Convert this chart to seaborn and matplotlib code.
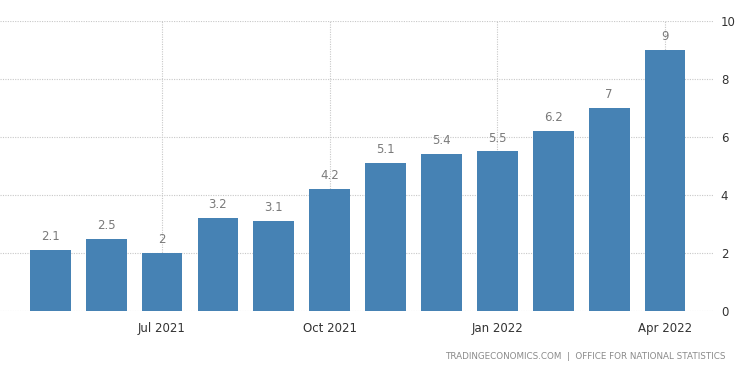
import pandas as pd
import matplotlib.pyplot as plt
import seaborn as sns
sns.set_style("white")

# Monthly values, May 2021 - Apr 2022
months = ["May 2021", "Jun 2021", "Jul 2021", "Aug 2021", "Sep 2021", "Oct 2021",
          "Nov 2021", "Dec 2021", "Jan 2022", "Feb 2022", "Mar 2022", "Apr 2022"]
values = [2.1, 2.5, 2, 3.2, 3.1, 4.2, 5.1, 5.4, 5.5, 6.2, 7, 9]
value_labels = ["2.1", "2.5", "2", "3.2", "3.1", "4.2", "5.1", "5.4", "5.5", "6.2", "7", "9"]
tick_months = ["Jul 2021", "Oct 2021", "Jan 2022", "Apr 2022"]
y_ticks = [0, 2, 4, 6, 8, 10]

df = pd.DataFrame({"Month": months, "Value": values})

fig = plt.figure(figsize=(7.5, 3.73), dpi=100)
ax = fig.add_axes([0.0, 0.166, 0.95, 0.778])

sns.barplot(data=df, x="Month", y="Value", order=months, color="#4682b4",
            saturation=1, width=0.73, linewidth=0, ax=ax, zorder=2)

bars = ax.containers[0]
ax.bar_label(bars, labels=value_labels, padding=5, color="#7a7a7a", fontsize=8.5)

# axes look
for s in ax.spines.values():
    s.set_visible(False)
ax.set_ylim(0, 10)
ax.set_xlim(-0.9, 11.85)
ax.set_yticks(y_ticks)
ax.yaxis.tick_right()
ax.tick_params(axis="y", length=0, pad=6, labelsize=8.5, labelcolor="#333333")

tick_pos = [months.index(m) for m in tick_months]
ax.set_xticks(tick_pos)
ax.set_xticklabels(tick_months)
ax.tick_params(axis="x", length=4, color="#cccccc", pad=4, labelsize=8.5, labelcolor="#333333")
ax.set_xlabel("")
ax.set_ylabel("")

ax.grid(True, axis="both", linestyle=(0, (1, 1.2)), color="#c8c8c8", linewidth=0.8, zorder=0)
ax.set_axisbelow(True)

fig.text(0.968, 0.045, "TRADINGECONOMICS.COM  |  OFFICE FOR NATIONAL STATISTICS",
         ha="right", va="center", fontsize=6.3, color="#8a8a8a")

fig.savefig("out.png", dpi=100)
